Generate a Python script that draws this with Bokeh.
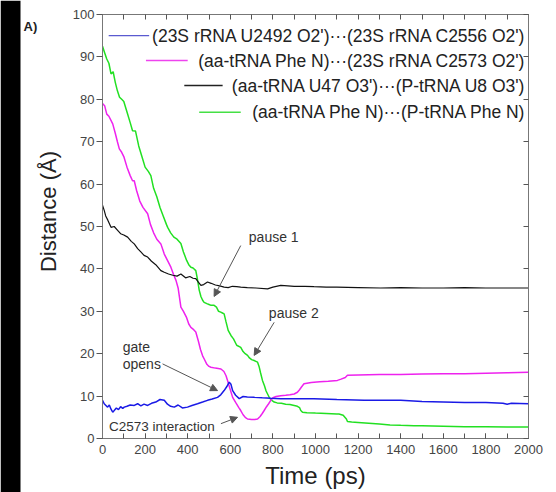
import math
from bokeh.plotting import figure
from bokeh.models import (Range1d, LinearAxis, SingleIntervalTicker, FixedTicker, Arrow,
                          NormalHead, Label)
from bokeh.layouts import row
from bokeh.embed import file_html
from bokeh.resources import INLINE

FONT = "Liberation Sans"

# ---------------- data ----------------
green_t = [0, 10, 20, 30, 40, 50, 60, 70, 80, 90, 100, 115, 130, 141, 155, 170, 185,
           200, 215, 227, 240, 255, 270, 285, 300, 306, 320, 335, 350, 368, 380, 395,
           405, 415, 425, 438, 446, 454, 462, 470, 477, 490, 500, 510, 524, 535, 545,
           555, 563, 571, 580, 590, 603, 615, 630, 649, 660, 670, 681, 690, 700, 712,
           720, 728, 735, 742, 751, 760, 768, 775, 785, 795, 806, 820, 840, 860, 880,
           900, 915, 925, 931, 939, 960, 1000, 1050, 1100, 1110, 1130, 1145, 1150, 1170,
           1200, 1250, 1300, 1350, 1400, 1462, 1500, 1600, 1700, 1800, 1900, 2000]
green_d = [92.5, 91.0, 89.5, 88.5, 86.0, 86.5, 84.0, 82.0, 80.5, 80.0, 79.5, 77.0, 74.5,
           72.6, 72.5, 69.0, 66.5, 64.0, 63.0, 62.0, 59.0, 57.0, 54.5, 52.5, 50.5, 49.8,
           48.5, 47.5, 47.0, 46.0, 44.0, 42.0, 41.0, 40.4, 40.2, 39.6, 37.5, 35.0, 33.5,
           32.6, 32.1, 31.8, 31.6, 31.4, 31.4, 31.0, 30.0, 29.8, 29.6, 29.4, 27.5, 25.5,
           24.3, 23.5, 22.0, 21.5, 20.5, 20.0, 19.6, 19.0, 18.6, 18.4, 18.2, 18.0, 17.0,
           15.5, 13.7, 12.5, 11.2, 10.5, 9.5, 9.0, 8.6, 8.4, 8.3, 8.1, 8.0, 7.8, 7.6, 7.3,
           6.6, 6.2, 6.1, 6.0, 5.9, 5.8, 5.8, 5.5, 4.6, 4.0, 3.9, 3.8, 3.6, 3.4, 3.2, 3.1,
           3.0, 3.0, 2.9, 2.8, 2.8, 2.7, 2.7]

magenta_t = [0, 10, 20, 30, 48, 60, 70, 79, 90, 100, 115, 130, 141, 149, 160, 175, 190,
             212, 225, 240, 255, 274, 290, 305, 321, 335, 345, 355, 368, 380, 395, 405,
             415, 425, 438, 450, 460, 470, 477, 490, 500, 509, 530, 556, 570, 580, 587,
             600, 611, 625, 640, 649, 660, 670, 681, 700, 715, 728, 740, 750, 759, 770,
             780, 790, 800, 815, 837, 860, 880, 900, 915, 925, 935, 946, 980, 1020, 1060,
             1103, 1120, 1140, 1150, 1200, 1300, 1400, 1500, 1600, 1700, 1800, 1900, 2000]
magenta_d = [79.0, 78.5, 76.5, 76.0, 74.2, 72.0, 70.0, 68.3, 67.5, 66.5, 64.0, 62.0, 60.8,
             60.8, 58.5, 56.0, 54.5, 53.0, 50.5, 48.5, 47.0, 45.9, 43.5, 42.0, 40.4, 38.5,
             37.3, 35.5, 31.0, 30.0, 28.5, 27.0, 26.2, 25.8, 25.1, 23.0, 21.0, 19.5, 18.8,
             17.5, 17.0, 16.8, 16.6, 16.4, 15.8, 14.8, 13.7, 11.5, 9.7, 8.5, 7.3, 6.6, 5.6,
             5.0, 4.6, 4.5, 4.5, 4.6, 5.2, 5.9, 6.6, 7.5, 8.2, 9.0, 9.6, 9.9, 10.1, 10.2,
             10.3, 10.5, 10.9, 11.5, 12.2, 12.9, 13.2, 13.4, 13.5, 13.7, 14.0, 14.4, 14.9,
             15.0, 15.1, 15.1, 15.2, 15.3, 15.3, 15.4, 15.5, 15.6]

black_t = [0, 8, 15, 25, 40, 55, 71, 85, 100, 118, 135, 149, 165, 180, 195, 212, 230, 250,
           274, 290, 310, 330, 350, 368, 390, 410, 425, 438, 450, 462, 475, 493, 510, 530,
           550, 571, 590, 610, 630, 649, 680, 720, 775, 800, 837, 870, 900, 950, 993,
           1050, 1100, 1200, 1306, 1400, 1500, 1600, 1700, 1800, 1900, 2000]
black_d = [55.0, 53.8, 52.5, 51.5, 49.8, 50.0, 49.1, 48.3, 48.0, 47.5, 46.5, 45.9, 44.8,
           44.0, 43.2, 42.8, 41.8, 41.0, 39.6, 39.2, 38.8, 38.5, 38.3, 38.8, 37.9, 38.2,
           37.8, 37.7, 36.9, 36.1, 36.3, 36.9, 36.6, 36.2, 36.0, 35.7, 35.6, 35.9, 35.8,
           35.7, 35.6, 35.5, 35.3, 35.7, 36.1, 36.0, 35.9, 35.9, 35.8, 35.7, 35.7, 35.6,
           35.5, 35.6, 35.5, 35.5, 35.6, 35.5, 35.5, 35.5]

blue_t = [0, 8, 16, 24, 32, 40, 48, 55, 65, 75, 85, 95, 102, 115, 130, 149, 165, 180, 195,
          212, 230, 250, 270, 290, 305, 320, 337, 355, 375, 399, 420, 446, 470, 493, 515,
          540, 555, 571, 583, 595, 603, 611, 625, 642, 660, 680, 712, 750, 790, 837, 900,
          993, 1100, 1228, 1300, 1400, 1500, 1600, 1700, 1800, 1880, 1900, 1920, 2000]
blue_d = [9.0, 8.2, 7.8, 7.4, 7.9, 6.9, 6.2, 6.6, 7.2, 6.8, 7.5, 7.1, 7.4, 7.6, 7.9, 7.8,
          8.2, 7.7, 8.1, 7.8, 8.3, 8.6, 9.2, 9.0, 8.1, 7.6, 7.4, 7.9, 7.2, 7.4, 7.8, 8.2,
          8.6, 9.0, 9.3, 9.7, 10.3, 11.3, 12.2, 13.3, 12.8, 11.3, 10.2, 9.4, 9.9, 9.8, 9.7,
          9.6, 9.5, 9.4, 9.4, 9.4, 9.2, 9.0, 9.0, 9.0, 8.7, 8.6, 8.5, 8.5, 8.3, 8.1, 8.3, 8.2]

series_labels = ["(23S rRNA U2492 O2')\u00b7\u00b7\u00b7(23S rRNA C2556 O2')",
                 "(aa-tRNA Phe N)\u00b7\u00b7\u00b7(23S rRNA C2573 O2')",
                 "(aa-tRNA U47 O3')\u00b7\u00b7\u00b7(P-tRNA U8 O3')",
                 "(aa-tRNA Phe N)\u00b7\u00b7\u00b7(P-tRNA Phe N)"]
panel_label = "A)"
x_title = "Time (ps)"
y_title = "Distance (\u00c5)"

x_tick_step = 100
y_tick_step = 10

# ---------------- styling / layout constants ----------------
line_colors = ["#1a1ae6", "#ee22ee", "#111111", "#22e022"]
legend_colors = ["#5a5ad0", "#ee44ee", "#222222", "#44e044"]
legend_rows_y = [95.0, 89.15, 83.25, 76.95]
legend_line_x = [(29, 219), (204, 400), (384, 564), (454, 649)]
legend_text_right = 1990

W, H = 556, 492
SIDE = 62            # left panel: dark scan edge, panel letter, y title
EDGE = 20            # width of the dark scan edge
fig_w = W - SIDE

# ---------------- left side panel (pixel coordinates, y downward) ----------------
side = figure(width=SIDE, height=H, output_backend="svg", toolbar_location=None,
              x_range=Range1d(0, SIDE), y_range=Range1d(H, 0), min_border=0)
side.axis.visible = False
side.grid.visible = False
side.outline_line_color = None
side.background_fill_color = "white"
side.border_fill_color = "white"
side.quad(left=[0], right=[EDGE], top=[0], bottom=[H], fill_color="black",
          line_color=None)
side.add_layout(Label(x=23, y=26, text=panel_label, text_align="left",
                      text_baseline="middle", text_font=FONT, text_font_size="13px",
                      text_font_style="bold", text_color="#222222"))
side.add_layout(Label(x=47.5, y=211, text=y_title, angle=math.pi / 2,
                      text_align="center", text_baseline="middle", text_font=FONT,
                      text_font_size="22px", text_color="#222222"))

# ---------------- main plot ----------------
p = figure(width=fig_w, height=H, output_backend="svg", toolbar_location=None,
           x_range=Range1d(0, 2000), y_range=Range1d(0, 100),
           min_border_left=102 - SIDE, min_border_right=28, min_border_top=14,
           min_border_bottom=54)
p.background_fill_color = "white"
p.border_fill_color = "white"
p.outline_line_color = "#777777"
p.outline_line_width = 1
p.xgrid.grid_line_color = None
p.ygrid.grid_line_color = None

# keep the two panels' frames independent (no frame alignment across the row)
for fig in (side, p):
    try:
        fig.frame_align = False
    except Exception:
        pass

xa = p.xaxis[0]
xa.ticker = SingleIntervalTicker(interval=200, num_minor_ticks=2)
xa.axis_label = x_title
xa.axis_label_text_font = FONT
xa.axis_label_text_font_style = "normal"
xa.axis_label_text_font_size = "24px"
xa.axis_label_text_color = "#222222"
xa.axis_label_standoff = 5
xa.major_label_text_font = FONT
xa.major_label_text_font_size = "13px"
xa.major_label_text_color = "#444444"
xa.major_label_standoff = 6
xa.major_tick_in = 5
xa.major_tick_out = 0
xa.minor_tick_in = 5
xa.minor_tick_out = 0
xa.axis_line_color = "#777777"
xa.major_tick_line_color = "#555555"
xa.minor_tick_line_color = "#555555"

ya = p.yaxis[0]
ya.ticker = SingleIntervalTicker(interval=10, num_minor_ticks=0)
ya.major_label_text_font = FONT
ya.major_label_text_font_size = "13px"
ya.major_label_text_color = "#444444"
ya.major_label_standoff = 2
ya.major_tick_in = 0
ya.major_tick_out = 6
ya.minor_tick_line_color = None
ya.axis_line_color = "#777777"
ya.major_tick_line_color = "#555555"

# top and right: tick marks only (minor ticks of a ticker without major ticks)
top_ticks = list(range(0, 2001, x_tick_step))
right_ticks = list(range(0, 101, y_tick_step))
top = LinearAxis(ticker=FixedTicker(ticks=[], minor_ticks=top_ticks),
                 minor_tick_in=5, minor_tick_out=0, major_tick_in=0, major_tick_out=0,
                 axis_line_color="#777777", minor_tick_line_color="#555555")
p.add_layout(top, "above")
right = LinearAxis(ticker=FixedTicker(ticks=[], minor_ticks=right_ticks),
                   minor_tick_in=5, minor_tick_out=0, major_tick_in=0, major_tick_out=0,
                   axis_line_color="#777777", minor_tick_line_color="#555555")
p.add_layout(right, "right")

# ---------------- series ----------------
p.line(green_t, green_d, line_color=line_colors[3], line_width=1.5)
p.line(magenta_t, magenta_d, line_color=line_colors[1], line_width=1.5)
p.line(black_t, black_d, line_color=line_colors[2], line_width=1.2)
p.line(blue_t, blue_d, line_color=line_colors[0], line_width=1.5)

# ---------------- legend (right-aligned, as in the original) ----------------
for lab, col, yy, (x0, x1) in zip(series_labels, legend_colors, legend_rows_y, legend_line_x):
    p.line([x0, x1], [yy, yy], line_color=col, line_width=1.3)
    p.add_layout(Label(x=legend_text_right, y=yy, text=lab, text_align="right",
                       text_baseline="middle", text_font=FONT,
                       text_font_size="17.5px", text_color="#222222"))

# ---------------- annotations ----------------
ann_color = "#333333"
arrow_color = "#555555"


def note(x, y, txt, size="13.5px"):
    p.add_layout(Label(x=x, y=y, text=txt, text_align="left", text_baseline="middle",
                       text_font=FONT, text_font_size=size, text_color=ann_color))


def arrow(x0, y0, x1, y1):
    p.add_layout(Arrow(end=NormalHead(size=7, fill_color=arrow_color,
                                      line_color=arrow_color),
                       x_start=x0, y_start=y0, x_end=x1, y_end=y1,
                       line_color=arrow_color, line_width=1))


note(687, 47.5, "pause 1", "14px")
arrow(649, 45.5, 524, 33.5)
note(781, 29.6, "pause 2", "14px")
arrow(806, 27.4, 712, 19.6)
note(95, 21.5, "gate", "14px")
note(95, 17.6, "opens", "14px")
arrow(282, 17.6, 540, 11.3)
note(30, 2.8, "C2573 interaction")
arrow(556, 3.5, 634, 5.0)

layout = row(side, p, spacing=0)
open("out.html", "w").write(file_html(layout, INLINE))
